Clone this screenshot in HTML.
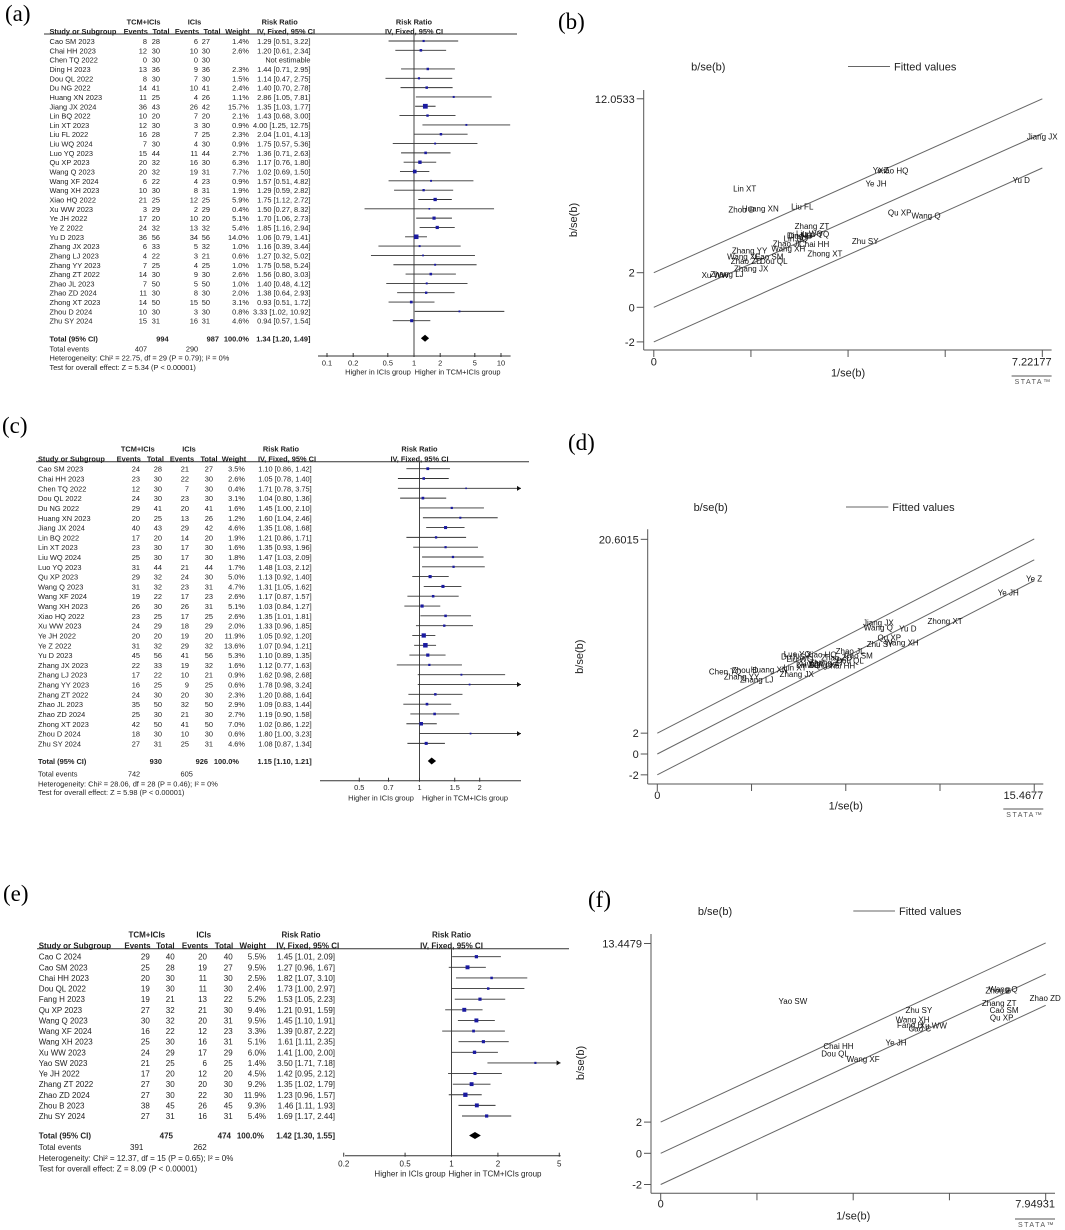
<!DOCTYPE html>
<html><head><meta charset="utf-8"><style>
html,body{margin:0;padding:0;background:#fff;}
svg{display:block;font-family:"Liberation Sans",Arial,sans-serif;}
.pl{font-family:"Liberation Serif","Times New Roman",serif;}
</style></head><body>
<svg id="fig" width="1065" height="1230" viewBox="0 0 1065 1230" xmlns="http://www.w3.org/2000/svg">
<rect width="1065" height="1230" fill="#fff"/>
</svg>
<script>
// ===== Panel (a) data =====
const aNames=["Cao SM 2023","Chai HH 2023","Chen TQ 2022","Ding H 2023","Dou QL 2022","Du NG 2022","Huang XN 2023","Jiang JX 2024","Lin BQ 2022","Lin XT 2023","Liu FL 2022","Liu WQ 2024","Luo YQ 2023","Qu XP 2023","Wang Q 2023","Wang XF 2024","Wang XH 2023","Xiao HQ 2022","Xu WW 2023","Ye JH 2022","Ye Z 2022","Yu D 2023","Zhang JX 2023","Zhang LJ 2023","Zhang YY 2023","Zhang ZT 2022","Zhao JL 2023","Zhao ZD 2024","Zhong XT 2023","Zhou D 2024","Zhu SY 2024"];
const aE1=[8,12,0,13,8,14,11,36,10,12,16,7,15,20,20,6,10,21,3,17,24,36,6,4,7,14,7,11,14,10,15];
const aN1=[28,30,30,36,30,41,25,43,20,30,28,30,44,32,32,22,30,25,29,20,32,56,33,22,25,30,50,30,50,30,31];
const aE2=[6,10,0,9,7,10,4,26,7,3,7,4,11,16,19,4,8,12,2,10,13,34,5,3,4,9,5,8,15,3,16];
const aN2=[27,30,30,36,30,41,26,42,20,30,25,30,44,30,31,23,31,25,29,20,32,56,32,21,25,30,50,30,50,30,31];
const aWt=[1.4,2.6,null,2.3,1.5,2.4,1.1,15.7,2.1,0.9,2.3,0.9,2.7,6.3,7.7,0.9,1.9,5.9,0.4,5.1,5.4,14.0,1.0,0.6,1.0,2.6,1.0,2.0,3.1,0.8,4.6];
const aRR=[1.29,1.20,null,1.44,1.14,1.40,2.86,1.35,1.43,4.00,2.04,1.75,1.36,1.17,1.02,1.57,1.29,1.75,1.50,1.70,1.85,1.06,1.16,1.27,1.75,1.56,1.40,1.38,0.93,3.33,0.94];
const aLo=[0.51,0.61,null,0.71,0.47,0.70,1.05,1.03,0.68,1.25,1.01,0.57,0.71,0.76,0.69,0.51,0.59,1.12,0.27,1.06,1.16,0.79,0.39,0.32,0.58,0.80,0.48,0.64,0.51,1.02,0.57];
const aHi=[3.22,2.34,null,2.95,2.75,2.78,7.81,1.77,3.00,12.75,4.13,5.36,2.63,1.80,1.50,4.82,2.82,2.72,8.32,2.73,2.94,1.41,3.44,5.02,5.24,3.03,4.12,2.93,1.72,10.92,1.54];
const aTotal=[994,987,1.34,1.20,1.49];
const aEvents=[407,290];
const aTicks=[0.1,0.2,0.5,1,2,5,10];
const aStats=["Heterogeneity: Chi² = 22.75, df = 29 (P = 0.79); I² = 0%","Test for overall effect: Z = 5.34 (P < 0.00001)"];

// ===== Panel (c) data =====
const cNames=["Cao SM 2023","Chai HH 2023","Chen TQ 2022","Dou QL 2022","Du NG 2022","Huang XN 2023","Jiang JX 2024","Lin BQ 2022","Lin XT 2023","Liu WQ 2024","Luo YQ 2023","Qu XP 2023","Wang Q 2023","Wang XF 2024","Wang XH 2023","Xiao HQ 2022","Xu WW 2023","Ye JH 2022","Ye Z 2022","Yu D 2023","Zhang JX 2023","Zhang LJ 2023","Zhang YY 2023","Zhang ZT 2022","Zhao JL 2023","Zhao ZD 2024","Zhong XT 2023","Zhou D 2024","Zhu SY 2024"];
const cE1=[24,23,12,24,29,20,40,17,23,25,31,29,31,19,26,23,24,20,31,45,22,17,16,24,35,25,42,18,27];
const cN1=[28,30,30,30,41,25,43,20,30,30,44,32,32,22,30,25,29,20,32,56,33,22,25,30,50,30,50,30,31];
const cE2=[21,22,7,23,20,13,29,14,17,17,21,24,23,17,26,17,18,19,29,41,19,10,9,20,32,21,41,10,25];
const cN2=[27,30,30,30,41,26,42,20,30,30,44,30,31,23,31,25,29,20,32,56,32,21,25,30,50,30,50,30,31];
const cWt=[3.5,2.6,0.4,3.1,1.6,1.2,4.6,1.9,1.6,1.8,1.7,5.0,4.7,2.6,5.1,2.6,2.0,11.9,13.6,5.3,1.6,0.9,0.6,2.3,2.9,2.7,7.0,0.6,4.6];
const cRR=[1.10,1.05,1.71,1.04,1.45,1.60,1.35,1.21,1.35,1.47,1.48,1.13,1.31,1.17,1.03,1.35,1.33,1.05,1.07,1.10,1.12,1.62,1.78,1.20,1.09,1.19,1.02,1.80,1.08];
const cLo=[0.86,0.78,0.78,0.80,1.00,1.04,1.08,0.86,0.93,1.03,1.03,0.92,1.05,0.87,0.84,1.01,0.96,0.92,0.94,0.89,0.77,0.98,0.98,0.88,0.83,0.90,0.86,1.00,0.87];
const cHi=[1.42,1.40,3.75,1.36,2.10,2.46,1.68,1.71,1.96,2.09,2.12,1.40,1.62,1.57,1.27,1.81,1.85,1.20,1.21,1.35,1.63,2.68,3.24,1.64,1.44,1.58,1.22,3.23,1.34];
const cTotal=[930,926,1.15,1.10,1.21];
const cEvents=[742,605];
const cTicks=[0.5,0.7,1,1.5,2];
const cStats=["Heterogeneity: Chi² = 28.06, df = 28 (P = 0.46); I² = 0%","Test for overall effect: Z = 5.98 (P < 0.00001)"];

// ===== Panel (e) data =====
const eNames=["Cao C 2024","Cao SM 2023","Chai HH 2023","Dou QL 2022","Fang H 2023","Qu XP 2023","Wang Q 2023","Wang XF 2024","Wang XH 2023","Xu WW 2023","Yao SW 2023","Ye JH 2022","Zhang ZT 2022","Zhao ZD 2024","Zhou B 2023","Zhu SY 2024"];
const eE1=[29,25,20,19,19,27,30,16,25,24,21,17,27,27,38,27];
const eN1=[40,28,30,30,21,32,32,22,30,29,25,20,30,30,45,31];
const eE2=[20,19,11,11,13,21,20,12,16,17,6,12,20,22,26,16];
const eN2=[40,27,30,30,22,30,31,23,31,29,25,20,30,30,45,31];
const eWt=[5.5,9.5,2.5,2.4,5.2,9.4,9.5,3.3,5.1,6.0,1.4,4.5,9.2,11.9,9.3,5.4];
const eRR=[1.45,1.27,1.82,1.73,1.53,1.21,1.45,1.39,1.61,1.41,3.50,1.42,1.35,1.23,1.46,1.69];
const eLo=[1.01,0.96,1.07,1.00,1.05,0.91,1.10,0.87,1.11,1.00,1.71,0.95,1.02,0.96,1.11,1.17];
const eHi=[2.09,1.67,3.10,2.97,2.23,1.59,1.91,2.22,2.35,2.00,7.18,2.12,1.79,1.57,1.93,2.44];
const eTotal=[475,474,1.42,1.30,1.55];
const eEvents=[391,262];
const eTicks=[0.2,0.5,1,2,5];
const eStats=["Heterogeneity: Chi² = 12.37, df = 15 (P = 0.65); I² = 0%","Test for overall effect: Z = 8.09 (P < 0.00001)"];

// ===== Galbraith (b) data =====
const bLabels=["Jiang JX","Yu D","Ye Z","Xiao HQ","Ye JH","Lin XT","Zhou D","Huang XN","Liu FL","Qu XP","Wang Q","Zhang ZT","Luo YQ","Du NG","Lin BQ","Ding H","Liu WQ","Zhao JL","Chai HH","Wang XH","Zhu SY","Zhong XT","Zhang YY","Wang XF","Cao SM","Zhao ZD","Dou QL","Zhang JX","Zhang LJ","Xu WW"];
const bX=[7.22,6.83,4.22,4.45,4.13,1.69,1.63,1.98,2.76,4.57,5.06,2.94,3.01,2.73,2.64,2.70,2.89,2.48,2.98,2.50,3.93,3.18,1.78,1.67,2.14,1.72,2.23,1.81,1.36,1.14];
const bY=[9.86,7.36,7.93,7.90,7.17,6.88,5.66,5.72,5.82,5.49,5.30,4.70,4.24,4.14,3.97,4.14,4.28,3.70,3.66,3.39,3.83,3.12,3.27,2.93,2.93,2.69,2.69,2.25,1.92,1.87];
const bSlope=1.392;
const bXmax=7.22177, bYmax=12.0533;

// ===== Galbraith (d) data =====
const dLabels=["Ye Z","Ye JH","Zhong XT","Jiang JX","Wang Q","Yu D","Qu XP","Zhu SY","Wang XH","Zhao JL","Cao SM","Zhao ZD","Dou QL","Xiao HQ","Luo YQ","Du NG","Liu WQ","Xu WW","Lin BQ","Wang XF","Chai HH","Lin XT","Zhang ZT","Zhang JX","Huang XN","Zhou D","Chen TQ","Zhang YY","Zhang LJ"];
const dX=[15.46,14.40,11.81,9.07,9.07,10.28,9.52,9.14,10.03,7.91,8.25,7.36,7.91,6.74,5.74,5.58,5.85,6.27,6.20,6.81,7.50,5.65,6.95,5.72,4.59,3.60,2.78,3.46,4.08];
const dY=[16.86,15.48,12.76,12.6,12.12,12.03,11.2,10.56,10.72,9.88,9.43,9.24,8.95,9.57,9.6,9.34,9.12,8.70,8.54,8.54,8.47,8.32,8.76,7.68,8.13,8.06,7.90,7.42,7.17];
const dSlope=1.205;
const dXmax=15.4677, dYmax=20.6015;

// ===== Galbraith (f) data =====
const fLabels=["Yao SW","Zhu SY","Wang XH","Fang H","Xu WW","Cao C","Ye JH","Chai HH","Dou QL","Wang XF","Wang Q","Zhou B","Zhang ZT","Cao SM","Qu XP","Zhao ZD"];
const fX=[2.73,5.33,5.20,5.15,5.63,5.35,4.86,3.67,3.60,4.18,7.07,6.97,6.99,7.09,7.04,7.94];
const fY=[9.76,9.19,8.59,8.22,8.18,8.01,7.11,6.88,6.41,6.03,10.53,10.42,9.62,9.19,8.69,9.94];
const fSlope=1.445;
const fXmax=7.94931, fYmax=13.4479;

const NS='http://www.w3.org/2000/svg';
const svg=document.getElementById('fig');
function mk(tag,attrs,parent){const e=document.createElementNS(NS,tag);for(const k in attrs)e.setAttribute(k,attrs[k]);(parent||svg).appendChild(e);return e;}
function txt(x,y,s,size,anchor,parent,extra){const e=mk('text',Object.assign({x:x,y:y,'font-size':size,'text-anchor':anchor||'start',fill:'#222'},extra||{}),parent);e.textContent=s;return e;}
function f2(v){return v.toFixed(2);}

function forest(id,c,d){
  const g=mk('g',{});
  
  
  const fs=c.fs;
  const pl=txt(c.labX,c.labY,'('+id+')',23,'start',g,{'class':'pl',fill:'#000'});
  
  
  const hb={'font-weight':'bold'};
  const H=[[c.hTcm,c.h1,'TCM+ICIs','middle'],[c.hIci,c.h1,'ICIs','middle'],[c.hRR,c.h1,'Risk Ratio','middle'],[c.x1,c.h1,'Risk Ratio','middle'],
    [c.name,c.h2,'Study or Subgroup','start'],[c.hEv1,c.h2,'Events','middle'],[c.hTot1,c.h2,'Total','middle'],[c.hEv2,c.h2,'Events','middle'],[c.hTot2,c.h2,'Total','middle'],[c.hWt,c.h2,'Weight','middle'],[c.hIV,c.h2,'IV, Fixed, 95% CI','middle'],[c.x1,c.h2,'IV, Fixed, 95% CI','middle']];
  H.forEach(h=>{const t=txt(h[0],h[1]+3,h[2],fs,h[3],g,hb);
    
    });
  const rule=mk('line',{x1:c.ruleX[0],x2:c.ruleX[1],y1:c.rule,y2:c.rule,stroke:'#333','stroke-width':1},g);
  
  
  const xs=v=>c.x1+Math.log10(v)*c.dec;
  const vl=mk('line',{x1:c.x1,x2:c.x1,y1:c.rule,y2:c.axisY,stroke:'#444','stroke-width':1},g);
  
  
  d.names.forEach((n,i)=>{
    const y=c.row0+i*c.step;
    const cells=[[c.name,n,'start'],[c.e1R,String(d.e1[i]),'end'],[c.n1R,String(d.n1[i]),'end'],[c.e2R,String(d.e2[i]),'end'],[c.n2R,String(d.n2[i]),'end']];
    if(d.rr[i]!==null){cells.push([c.wR,d.wt[i].toFixed(1)+'%','end']);cells.push([c.rrR,f2(d.rr[i])+' ['+f2(d.lo[i])+', '+f2(d.hi[i])+']','end']);}
    else cells.push([c.rrR,'Not estimable','end']);
    cells.forEach(cc=>{const t=txt(cc[0],y+3,cc[1],fs,cc[2],g);
      
      });
    if(d.rr[i]===null)return;
    const lo=Math.max(xs(d.lo[i]),c.axisX[0]), hi=Math.min(xs(d.hi[i]),c.axisX[1]);
    const ci=mk('line',{x1:lo,x2:hi,y1:y,y2:y,stroke:'#333','stroke-width':0.9},g);
    
    
    if(xs(d.hi[i])>c.axisX[1]){
      const ar=mk('path',{d:'M'+hi+' '+y+' l-4 -2.5 l0 5 z',fill:'#111'},g);
      
      
    }
    const s=1+Math.sqrt(d.wt[i])*0.95;
    const sq=mk('rect',{x:xs(d.rr[i])-s/2,y:y-s/2,width:s,height:s,fill:'#1a1aa0'},g);
    
    
  });
  const tb=[[c.name,'Total (95% CI)','start'],[c.N1R,String(d.total[0]),'end'],[c.N2R,String(d.total[1]),'end'],[c.wTR,'100.0%','end'],[c.rrR,f2(d.total[2])+' ['+f2(d.total[3])+', '+f2(d.total[4])+']','end']];
  tb.forEach(cc=>{const t=txt(cc[0],c.tot+3,cc[1],fs,cc[2],g,hb);
    
    });
  const te=[[c.name,'Total events','start'],[c.ev1C,String(d.events[0]),'middle'],[c.ev2C,String(d.events[1]),'middle']];
  te.forEach(cc=>{const t=txt(cc[0],c.tev+3,cc[1],fs,cc[2],g);
    
    });
  d.stats.forEach((s,k)=>{const t=txt(c.name,(k?c.test:c.het)+3,s,fs,'start',g);
    
    });
  const dx1=xs(d.total[3]),dx2=xs(d.total[4]),dm=xs(d.total[2]),ty=c.tot;
  const dia=mk('path',{d:'M'+dx1+' '+ty+' L'+dm+' '+(ty-3.5)+' L'+dx2+' '+ty+' L'+dm+' '+(ty+3.5)+' Z',fill:'#000'},g);
  
  
  const ax=mk('line',{x1:c.axisX[0],x2:c.axisX[1],y1:c.axisY,y2:c.axisY,stroke:'#333','stroke-width':1},g);
  
  
  d.ticks.forEach(v=>{
    const tk=mk('line',{x1:xs(v),x2:xs(v),y1:c.axisY-3,y2:c.axisY+1,stroke:'#333'},g);
    
    
    const tl=txt(xs(v),c.tickY+3,String(v),fs,'middle',g);
    
    
  });
  const b1=txt(c.botL,c.botY+3,'Higher in ICIs group',fs,'middle',g);
  
  
  const b2=txt(c.botR,c.botY+3,'Higher in TCM+ICIs group',fs,'middle',g);
  
  
}

forest('a',{fs:7.4,labX:5,labY:21,h1:21.7,h2:31,rule:34,ruleX:[44,517],row0:41,step:9.323,tot:338.3,tev:348.3,het:357.7,test:367,axisY:356,
  name:49.5,e1R:147,n1R:160,e2R:198,n2R:210,wR:249,rrR:310.5,N1R:168.6,N2R:219,wTR:249,ev1C:141,ev2C:192,
  hTcm:143.6,hIci:194.5,hRR:279.7,hEv1:135.7,hTot1:161,hEv2:187,hTot2:212,hWt:237.5,hIV:286,
  x1:414,dec:87,axisX:[318,510.6],tickY:362.7,botY:371.5,botL:378,botR:457.6},
  {names:aNames,e1:aE1,n1:aN1,e2:aE2,n2:aN2,wt:aWt,rr:aRR,lo:aLo,hi:aHi,total:aTotal,events:aEvents,ticks:aTicks,stats:aStats});

forest('c',{fs:7.4,labX:2,labY:433,h1:448.3,h2:458.3,rule:461.7,ruleX:[36,529],row0:468.7,step:9.81,tot:761,tev:773.3,het:783.3,test:792,axisY:780.7,
  name:38,e1R:140,n1R:162,e2R:189,n2R:213,wR:245,rrR:311.7,N1R:162,N2R:208,wTR:239,ev1C:134,ev2C:186.7,
  hTcm:137.8,hIci:189,hRR:281,hEv1:128.8,hTot1:155.4,hEv2:182,hTot2:209,hWt:234,hIV:287,
  x1:419.5,dec:200,axisX:[320,521],tickY:787,botY:797.3,botL:381,botR:465},
  {names:cNames,e1:cE1,n1:cN1,e2:cE2,n2:cN2,wt:cWt,rr:cRR,lo:cLo,hi:cHi,total:cTotal,events:cEvents,ticks:cTicks,stats:cStats});

forest('e',{fs:8,labX:3,labY:901,h1:934.7,h2:945.3,rule:948.7,ruleX:[37,569],row0:956.7,step:10.62,tot:1135.5,tev:1147,het:1158,test:1168.7,axisY:1155.7,
  name:38.7,e1R:149.8,n1R:174.7,e2R:207,n2R:232.7,wR:266,rrR:335,N1R:173,N2R:231,wTR:264,ev1C:136.7,ev2C:200,
  hTcm:146.8,hIci:203.7,hRR:301,hEv1:137.5,hTot1:165.4,hEv2:195,hTot2:224,hWt:252.8,hIV:307.8,
  x1:451.5,dec:154.2,axisX:[345,560.6],tickY:1163.3,botY:1173.5,botL:410,botR:495},
  {names:eNames,e1:eE1,n1:eN1,e2:eE2,n2:eN2,wt:eWt,rr:eRR,lo:eLo,hi:eHi,total:eTotal,events:eEvents,ticks:eTicks,stats:eStats});

function galbraith(id,c,d){
  const g=mk('g',{});
  
  
  const pl=txt(c.labX,c.labY,'('+id+')',23,'start',g,{'class':'pl',fill:'#000'});
  
  
  const xs=v=>c.x0+v*c.xsc, ys=v=>c.y0-v*c.ysc;
  const l1=txt(c.legB,c.legY+4,'b/se(b)',11,'middle',g);
  
  
  const ll=mk('line',{x1:c.legL[0],x2:c.legL[1],y1:c.legY,y2:c.legY,stroke:'#666','stroke-width':1},g);
  
  
  const l2=txt(c.legL[1]+4,c.legY+4,'Fitted values',11,'start',g);
  
  
  const ya=mk('line',{x1:c.yAx,x2:c.yAx,y1:c.yTop,y2:c.xAy,stroke:'#555'},g);
  
  
  const xa=mk('line',{x1:c.yAx,x2:c.xRight,y1:c.xAy,y2:c.xAy,stroke:'#555'},g);
  
  
  [-2,0,2,d.ymax].forEach(v=>{
    const tk=mk('line',{x1:c.yAx-7,x2:c.yAx,y1:ys(v),y2:ys(v),stroke:'#555'},g);
    
    
    const tl=txt(c.yAx-9,ys(v)+4,String(v),11,'end',g);
    
    
  });
  [0,0.25,0.5,0.75,1].forEach(f=>{
    const tk=mk('line',{x1:xs(f*d.xmax),x2:xs(f*d.xmax),y1:c.xAy,y2:c.xAy+7,stroke:'#555'},g);
    
    
  });
  const t0=txt(xs(0),c.tickY+4,'0',11,'middle',g);
  
  
  const t1=txt(c.xRight,c.tickY+4,String(d.xmax),11,'end',g);
  
  
  const xt=txt(xs(d.xmax/2),c.xtY+4,'1/se(b)',11,'middle',g);
  
  
  const yt=txt(c.ytX,c.ytY,'b/se(b)',11,'middle',g,{transform:'rotate(-90 '+c.ytX+' '+c.ytY+')'});
  
  
  [2,0,-2].forEach(off=>{
    const ln=mk('line',{x1:xs(0),y1:ys(off),x2:xs(d.xmax),y2:ys(off+d.slope*d.xmax),stroke:'#666','stroke-width':1},g);
    
    
  });
  d.labels.forEach((s,i)=>{
    const t=txt(xs(d.x[i]),ys(d.y[i])+3,s,8,'middle',g,{fill:'#111'});
    
    
  });
  const st=txt(c.xRight,c.stY,'STATA™',7,'end',g,{fill:'#555','letter-spacing':'1.5'});
  
  
  const so=mk('line',{x1:c.xRight-40,x2:c.xRight,y1:c.stY-8,y2:c.stY-8,stroke:'#555'},g);
  
  
}

galbraith('b',{labX:558,labY:29,legY:66.5,legB:708.3,legL:[848,890],yAx:643.7,yTop:90,xAy:350,xRight:1051.6,y0:307.3,ysc:17.3,x0:653.8,xsc:53.8,tickY:361.7,xtY:372.7,ytX:577,ytY:220,stY:384},
  {labels:bLabels,x:bX,y:bY,slope:bSlope,xmax:bXmax,ymax:bYmax});
galbraith('d',{labX:568,labY:450,legY:507,legB:710.7,legL:[846,888.3],yAx:647.7,yTop:529.3,xAy:784,xRight:1043.3,y0:754,ysc:10.42,x0:657.3,xsc:24.37,tickY:795,xtY:805.7,ytX:583,ytY:656.7,stY:817},
  {labels:dLabels,x:dX,y:dY,slope:dSlope,xmax:dXmax,ymax:dYmax});
galbraith('f',{labX:588,labY:907,legY:911,legB:715,legL:[853.3,895],yAx:651,yTop:934,xAy:1193.3,xRight:1055,y0:1153.3,ysc:15.6,x0:660.7,xsc:48.43,tickY:1203.3,xtY:1215.7,ytX:584,ytY:1063,stY:1227},
  {labels:fLabels,x:fX,y:fY,slope:fSlope,xmax:fXmax,ymax:fYmax});
</script>
</body></html>
